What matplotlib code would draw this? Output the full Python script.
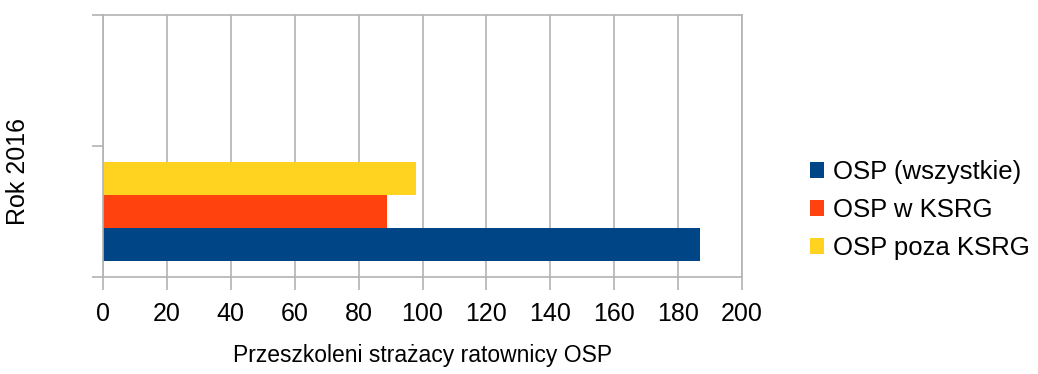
import matplotlib
matplotlib.use("Agg")
import matplotlib.pyplot as plt
import numpy as np
from matplotlib.patches import Patch

plt.rcParams["font.family"] = ["Liberation Sans", "DejaVu Sans"]

series = ["OSP (wszystkie)", "OSP w KSRG", "OSP poza KSRG"]
values = [187, 89, 98]
colors = ["#004586", "#ff420e", "#ffd320"]
year_label = "Rok 2016"
x_ticks = list(range(0, 201, 20))

GRID = "#b3b3b3"

fig = plt.figure(figsize=(10.38, 3.74), dpi=100)
ax = fig.add_axes([103 / 1038, 1 - 277 / 374, (742 - 103) / 1038, (277 - 15) / 374])

# one category slot (0..1) with the three series stacked side by side, upper slot empty
bar_h = 0.25
offsets = [-bar_h, 0, bar_h]
for name, val, col, off in zip(series, values, colors, offsets):
    ax.barh(0.5 + off, val, height=bar_h, color=col, zorder=2, label=name)

ax.set_xlim(0, 200)
ax.set_ylim(0, 2)
ax.set_xticks(x_ticks)
ax.set_xticklabels([str(t) for t in x_ticks], fontsize=18)
ax.set_yticks([0, 1, 2])
ax.set_yticklabels([])
ax.xaxis.grid(True, color=GRID, linewidth=1.2, zorder=0)
ax.tick_params(axis="x", direction="out", length=9, width=1.2, color=GRID, pad=9)
ax.tick_params(axis="y", direction="out", length=8, width=1.2, color=GRID)
for sp in ax.spines.values():
    sp.set_color(GRID)
    sp.set_linewidth(1.2)

ax.set_xlabel("Przeszkoleni strażacy ratownicy OSP", fontsize=16.5, labelpad=13)
fig.text(18 / 1038, 1 - 171 / 374, year_label, rotation=90, fontsize=18,
         ha="center", va="center")

handles = [Patch(facecolor=c, edgecolor="none") for c in colors]
fig.legend(handles, series, loc="center left", bbox_to_anchor=(810 / 1038, 1 - 210 / 374),
           frameon=False, fontsize=18.5, handlelength=0.55, handleheight=0.55,
           handletextpad=0.35, labelspacing=0.55, borderaxespad=0, borderpad=0)

fig.savefig("out.png", dpi=100, facecolor="white")
